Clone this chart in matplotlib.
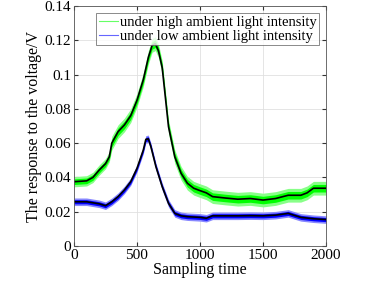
import matplotlib
matplotlib.use("Agg")
import matplotlib.pyplot as plt
import numpy as np

plt.rcParams['font.family'] = ['Liberation Serif', 'DejaVu Serif']
plt.rcParams['mathtext.fontset'] = 'stix'

# sample positions (sampling time)
t = [0, 100, 150, 200, 250, 280, 300, 350, 400, 450, 500, 550, 590, 620, 645,
     670, 700, 750, 800, 850, 900, 950, 1000, 1050, 1100, 1200, 1300, 1400,
     1500, 1600, 1700, 1800, 1850, 1900, 2000]
# smoothed response, high ambient light
high = [0.0375, 0.038, 0.040, 0.0443, 0.048, 0.052, 0.060, 0.0667, 0.0706,
        0.076, 0.085, 0.097, 0.110, 0.117, 0.118, 0.114, 0.104, 0.0696, 0.052,
        0.0424, 0.0366, 0.0337, 0.0323, 0.031, 0.0288, 0.028, 0.0273, 0.0277,
        0.0268, 0.0277, 0.0296, 0.0296, 0.031, 0.0337, 0.0337]
# noise half-width, high ambient light
high_noise = [0.003, 0.003, 0.003, 0.003, 0.003, 0.003, 0.004, 0.004, 0.004,
              0.004, 0.004, 0.004, 0.004, 0.004, 0.004, 0.004, 0.004, 0.004,
              0.004, 0.004, 0.004, 0.004, 0.004, 0.004, 0.004, 0.004, 0.004,
              0.004, 0.004, 0.004, 0.004, 0.004, 0.004, 0.004, 0.004]

t_low = [0, 100, 200, 250, 300, 350, 400, 450, 500, 550, 570, 590, 610, 650,
         700, 750, 800, 850, 900, 1000, 1050, 1100, 1200, 1300, 1400, 1500,
         1600, 1700, 1800, 1900, 2000]
# smoothed response, low ambient light
low = [0.0258, 0.0258, 0.0246, 0.0235, 0.0258, 0.0288, 0.0327, 0.0375, 0.0453,
       0.056, 0.0622, 0.0625, 0.058, 0.0463, 0.0346, 0.0249, 0.019, 0.0176,
       0.0171, 0.0167, 0.0162, 0.0176, 0.0176, 0.0176, 0.0177, 0.0176, 0.018,
       0.019, 0.0167, 0.0159, 0.0154]
low_noise = [0.0022] * len(t_low)

xticks = [0, 500, 1000, 1500, 2000]
yticks = [0, 0.02, 0.04, 0.06, 0.08, 0.1, 0.12, 0.14]
yticklabels = ['0', '0.02', '0.04', '0.06', '0.08', '0.1', '0.12', '0.14']

fig = plt.figure(figsize=(3.74, 2.89), dpi=100)
ax = fig.add_axes([74/374, 1-246/289, 252/374, 240/289])

th = np.array(t); hh = np.array(high); hn = np.array(high_noise)
tl = np.array(t_low); ll = np.array(low); ln = np.array(low_noise)

ax.fill_between(th, hh - hn, hh + hn, color='#88ff88', lw=0)
ax.fill_between(th, hh - hn*0.55, hh + hn*0.55, color='#00ff00', lw=0)
ax.fill_between(tl, ll - ln, ll + ln, color='#8888ff', lw=0)
ax.fill_between(tl, ll - ln*0.55, ll + ln*0.55, color='#0000ff', lw=0)
ax.plot([], [], color='#66ff66', lw=0.8, label='under high ambient light intensity')
ax.plot([], [], color='#6666ff', lw=0.8, label='under low ambient light intensity')
ax.plot(th, hh, color='black', lw=1.2)
ax.plot(tl, ll, color='black', lw=1.2)

ax.set_xlim(0, 2000)
ax.set_ylim(0, 0.14)
ax.set_xticks(xticks)
ax.set_yticks(yticks)
ax.set_yticklabels(yticklabels)
ax.grid(True, color='#e0e0e0', lw=0.6)
ax.set_axisbelow(True)
ax.tick_params(direction='in', top=True, right=True, labelsize=11, length=3,
               color='#333333', pad=2)
for s in ax.spines.values():
    s.set_color('#555555')
    s.set_linewidth(0.6)
ax.set_xlabel('Sampling time', fontsize=11.5, labelpad=0)
ax.set_ylabel('The response to the voltage/V', fontsize=11.5, labelpad=2)
leg = ax.legend(loc='upper right', fontsize=10.5, frameon=True, fancybox=False,
                handlelength=1.3, handletextpad=0.15, borderpad=0.15,
                labelspacing=0.05, borderaxespad=0.5)
leg.get_frame().set_edgecolor('#555555')
leg.get_frame().set_linewidth(0.6)
fig.savefig('out.png', dpi=100)
